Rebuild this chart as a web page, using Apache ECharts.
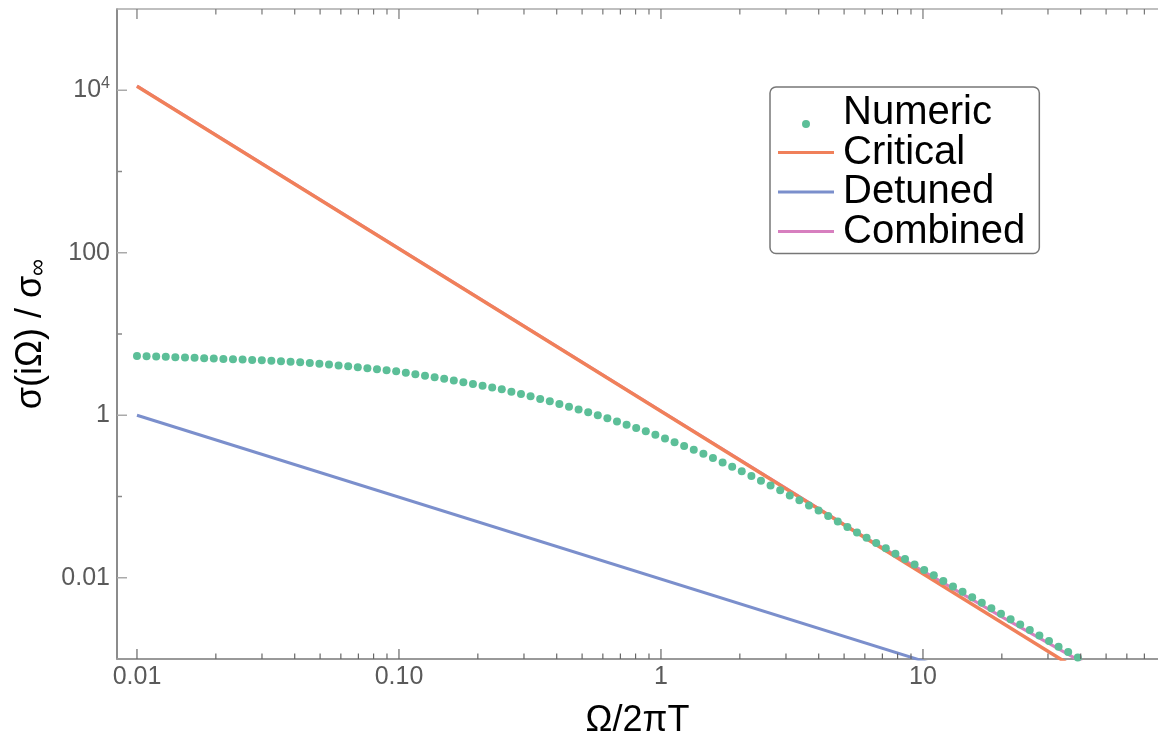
<!DOCTYPE html>
<html>
<head>
<meta charset="utf-8">
<style>
  html, body { margin: 0; padding: 0; background: #fff; }
  #chart { width: 1158px; height: 739px; }
</style>
<script src="https://cdn.jsdelivr.net/npm/echarts@6/dist/echarts.min.js"></script>
</head>
<body>
<div id="chart"></div>
<script>
// numeric points
var numericX = [
    0.01, 0.01088, 0.01184, 0.01288, 0.01401, 0.01525, 0.01659, 0.01805, 0.01964, 0.02137,
    0.02325, 0.0253, 0.02752, 0.02995, 0.03258, 0.03545, 0.03857, 0.04197, 0.04567, 0.04969,
    0.05406, 0.05882, 0.064, 0.06963, 0.07576, 0.08243, 0.08969, 0.09757, 0.1062, 0.1155,
    0.1257, 0.1368, 0.1488, 0.1619, 0.1761, 0.1916, 0.2085, 0.2269, 0.2468, 0.2686,
    0.2922, 0.3179, 0.3459, 0.3764, 0.4095, 0.4456, 0.4848, 0.5275, 0.5739, 0.6244,
    0.6794, 0.7392, 0.8043, 0.8751, 0.952, 1.036, 1.127, 1.226, 1.334, 1.452,
    1.579, 1.719, 1.87, 2.034, 2.214, 2.408, 2.62, 2.851, 3.102, 3.375,
    3.672, 3.996, 4.348, 4.73, 5.147, 5.6, 6.093, 6.629, 7.213, 7.848,
    8.539, 9.29, 10.11, 11.0, 11.96, 13.02, 14.16, 15.41, 16.77, 18.24,
    19.85, 21.6, 23.5, 25.57, 27.82, 30.27, 32.93, 35.83, 38.99
];
var numericY = [
    5.36, 5.32, 5.28, 5.23, 5.19, 5.14, 5.09, 5.04, 4.99, 4.94,
    4.89, 4.84, 4.79, 4.74, 4.67, 4.61, 4.55, 4.49, 4.39, 4.29,
    4.20, 4.11, 4.02, 3.91, 3.80, 3.68, 3.57, 3.47, 3.34, 3.20,
    3.06, 2.93, 2.81, 2.68, 2.55, 2.43, 2.31, 2.20, 2.09, 1.95,
    1.83, 1.71, 1.59, 1.49, 1.38, 1.27, 1.18, 1.09, 1.00, 0.918,
    0.837, 0.763, 0.696, 0.634, 0.574, 0.516, 0.464, 0.417, 0.376, 0.336,
    0.297, 0.263, 0.233, 0.205, 0.179, 0.156, 0.137, 0.119, 0.103, 0.0896,
    0.0777, 0.0673, 0.0577, 0.0493, 0.0422, 0.0361, 0.031, 0.0267, 0.023, 0.0198,
    0.017, 0.0146, 0.0125, 0.0107, 0.00915, 0.00783, 0.00671, 0.00575, 0.00492, 0.00422,
    0.00361, 0.00309, 0.00265, 0.00227, 0.00194, 0.00166, 0.00142, 0.00122, 0.00104
];

// straight lines
var criticalX = [0.01, 100];
var criticalY = [11200, 0.000112];
var detunedX = [0.01, 20];
var detunedY = [1.0, 0.00047];
var combinedX = [0.01, 0.1, 1, 3, 6, 10, 20, 30, 50];
var combinedY = [11250, 112.5, 1.13, 0.126, 0.0315, 0.0121, 0.0033, 0.00158, 0.00062];

// ticks
var xMajorTicks = [0.01, 0.1, 1, 10];
var xMinorTicks = [
    0.02, 0.03, 0.04, 0.05, 0.06, 0.07, 0.08, 0.09,
    0.2, 0.3, 0.4, 0.5, 0.6, 0.7, 0.8, 0.9,
    2, 3, 4, 5, 6, 7, 8, 9,
    20, 30, 40, 50, 60, 70
];
var yMajorTicks = [0.01, 1, 100, 10000];
var yMinorTicks = [0.1, 10, 1000];
var xLabels = {"-2": "0.01", "-1": "0.10", "0": "1", "1": "10"};
var yLabels = {"-2": "0.01", "0": "1", "2": "100", "4": "{n|10}{s|4}"};

var X_MIN = 0.00839;
var X_MAX = 78.9;
var Y_MIN = 0.001;
var Y_MAX = 100000;

var FONT = "'Liberation Sans', Arial, sans-serif";
// legend glyphs: a flat bar for the lines, a dot sitting low for the points
var LINE_ICON = 'path://M0,0H56V3H0Z';
var DOT_ICON = 'path://M4,0L4,0.01M0,26a4,4 0 1,0 8,0a4,4 0 1,0 -8,0Z';

function pairs (xs, ys) {
    return xs.map(function (x, i) { return [x, ys[i]]; });
}

function exponentOf (v) {
    var l = Math.log10(v);
    var e = Math.round(l);
    return Math.abs(l - e) < 1e-6 ? e : null;
}

var tickData = [].concat(
    xMajorTicks.map(function (v) { return [v, Y_MIN, 10, 0]; }),
    xMinorTicks.map(function (v) { return [v, Y_MIN, 5.5, 0]; }),
    yMajorTicks.map(function (v) { return [X_MIN, v, 10, 1]; }),
    yMinorTicks.map(function (v) { return [X_MIN, v, 5, 2]; })
);

function render_ticks (params, api) {
    var xv = api.value(0);
    var yv = api.value(1);
    var len = api.value(2);
    var kind = api.value(3);
    var p = api.coord([xv, yv]);
    var kids = [];
    if (kind === 0) {
        var q = api.coord([xv, Y_MAX]);
        kids.push({
            type: 'line',
            shape: {x1: p[0], y1: p[1], x2: p[0], y2: p[1] - len},
            style: {stroke: '#666', lineWidth: 1.2}
        });
        kids.push({
            type: 'line',
            shape: {x1: q[0], y1: q[1], x2: q[0], y2: q[1] + len},
            style: {stroke: '#777', lineWidth: 1.2}
        });
    } else {
        kids.push({
            type: 'line',
            shape: {x1: p[0], y1: p[1], x2: p[0] + len, y2: p[1]},
            style: {stroke: kind === 1 ? '#aaa' : '#888', lineWidth: 1.5}
        });
    }
    return {type: 'group', children: kids};
}

var chartobj = echarts.init(document.getElementById("chart"));
var option = {
    animation: false,
    backgroundColor: '#fff',
    textStyle: {fontFamily: FONT},
    grid: {
        left: 117,
        right: 0,
        top: 9,
        bottom: 80,
        containLabel: false,
        outerBoundsMode: 'none'
    },
    legend: {
        orient: 'vertical',
        left: 770,
        top: 87,
        itemWidth: 56,
        itemHeight: 30,
        itemGap: -0.5,
        padding: [6, 14, 2, 8],
        borderColor: '#777',
        borderWidth: 1.5,
        borderRadius: 6,
        backgroundColor: '#fff',
        textStyle: {
            fontFamily: FONT,
            fontSize: 40,
            lineHeight: 34,
            color: '#000',
            padding: [0, 0, 0, 4]
        },
        data: [
            {name: 'Numeric', icon: DOT_ICON},
            {name: 'Critical', icon: LINE_ICON},
            {name: 'Detuned', icon: LINE_ICON},
            {name: 'Combined', icon: LINE_ICON}
        ]
    },
    xAxis: [
        {
            type: 'log',
            min: X_MIN,
            max: X_MAX,
            name: 'Ω/2πT',
            nameLocation: 'middle',
            nameGap: 44,
            nameTextStyle: {fontFamily: FONT, fontSize: 36, color: '#000'},
            axisLine: {show: true, lineStyle: {color: '#999', width: 2}},
            axisTick: {show: false},
            splitLine: {show: false},
            minorTick: {show: false},
            axisLabel: {
                fontFamily: FONT,
                fontSize: 25,
                color: '#5a5a5a',
                margin: 6,
                showMinLabel: false,
                showMaxLabel: false,
                formatter: function (v) {
                    var e = exponentOf(v);
                    return e === null ? '' : (xLabels[e] || '');
                }
            }
        },
        {
            type: 'log',
            position: 'top',
            min: X_MIN,
            max: X_MAX,
            axisLine: {show: true, lineStyle: {color: '#aaa', width: 1.5}},
            axisTick: {show: false},
            axisLabel: {show: false},
            splitLine: {show: false}
        }
    ],
    yAxis: {
        type: 'log',
        min: Y_MIN,
        max: Y_MAX,
        name: '{a|σ(iΩ) / σ}{b|∞}',
        nameLocation: 'middle',
        nameGap: 63,
        nameRotate: 90,
        nameTextStyle: {
            color: '#000',
            rich: {
                a: {fontFamily: FONT, fontSize: 36, color: '#000'},
                b: {fontFamily: FONT, fontSize: 24, color: '#000', padding: [14, 0, 0, 0]}
            }
        },
        axisLine: {show: true, lineStyle: {color: '#666', width: 1.5}},
        axisTick: {show: false},
        splitLine: {show: false},
        minorTick: {show: false},
        axisLabel: {
            fontFamily: FONT,
            fontSize: 25,
            color: '#5a5a5a',
            margin: 7,
            showMinLabel: false,
            showMaxLabel: false,
            formatter: function (v) {
                var e = exponentOf(v);
                return e === null ? '' : (yLabels[e] || '');
            },
            rich: {
                n: {fontFamily: FONT, fontSize: 25, color: '#5a5a5a'},
                s: {fontFamily: FONT, fontSize: 16, color: '#5a5a5a', padding: [0, 0, 14, 0]}
            }
        }
    },
    series: [
        {
            name: 'Combined',
            type: 'line',
            data: pairs(combinedX, combinedY),
            symbol: 'none',
            lineStyle: {color: '#d77fbf', width: 3},
            itemStyle: {color: '#d77fbf'},
            z: 2
        },
        {
            name: 'Critical',
            type: 'line',
            data: pairs(criticalX, criticalY),
            symbol: 'none',
            lineStyle: {color: '#f0805a', width: 3.5},
            itemStyle: {color: '#f0805a'},
            z: 3
        },
        {
            name: 'Detuned',
            type: 'line',
            data: pairs(detunedX, detunedY),
            symbol: 'none',
            lineStyle: {color: '#7b8fcc', width: 3},
            itemStyle: {color: '#7b8fcc'},
            z: 3
        },
        {
            name: 'Numeric',
            type: 'scatter',
            data: pairs(numericX, numericY),
            symbol: 'circle',
            symbolSize: 8,
            itemStyle: {color: '#5cbf98', opacity: 1},
            z: 4
        },
        {
            name: 'ticks',
            type: 'custom',
            data: tickData,
            renderItem: render_ticks,
            silent: true,
            clip: false,
            encode: {x: 0, y: 1},
            z: 6
        }
    ]
};
chartobj.setOption(option);
</script>
</body>
</html>
